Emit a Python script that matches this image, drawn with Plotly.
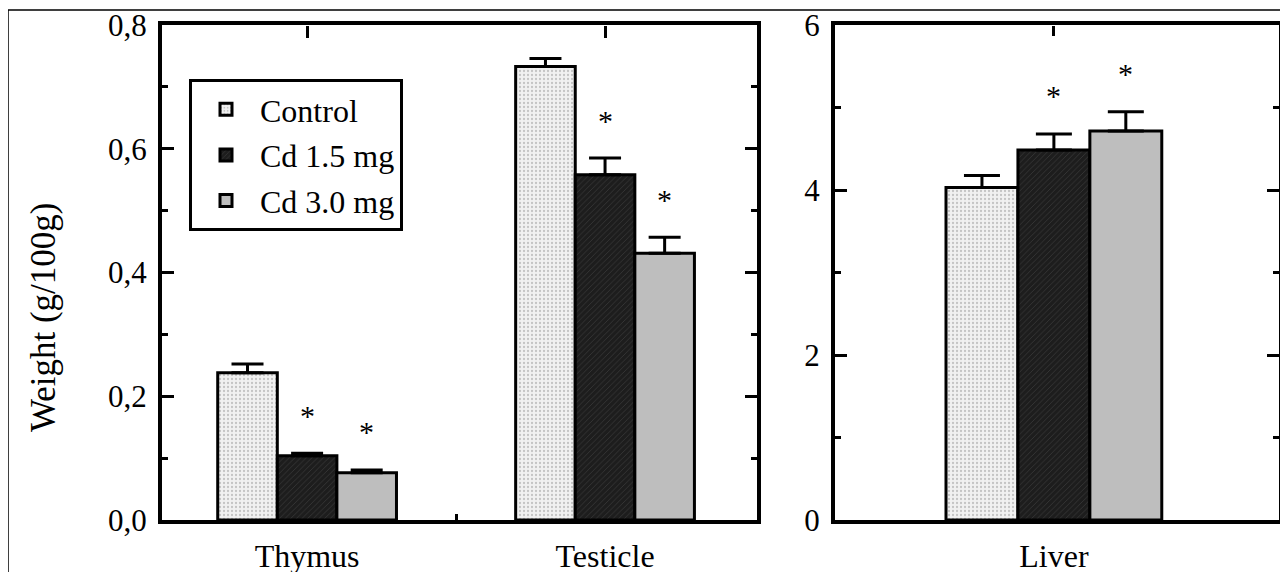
import plotly.graph_objects as go

# ---------------- data ----------------
groups = ["Control", "Cd 1.5 mg", "Cd 3.0 mg"]
left_organs = ["Thymus", "Testicle"]
right_organs = ["Liver"]

thymus_mean = [0.238, 0.104, 0.0765]
thymus_sem = [0.014, 0.004, 0.0045]
testicle_mean = [0.733, 0.558, 0.431]
testicle_sem = [0.013, 0.027, 0.026]
liver_mean = [4.03, 4.485, 4.715]
liver_sem = [0.145, 0.195, 0.235]

thymus_sig = [False, True, True]
testicle_sig = [False, True, True]
liver_sig = [False, True, True]

left_ticks = [0, 0.2, 0.4, 0.6, 0.8]
right_ticks = [0, 2, 4, 6]

# ---------------- styles ----------------
FONT = "Liberation Serif"
W, H = 1288, 572
PAGE_OFF = 8  # default page margin of the html body
fills = [
    dict(color="#efefef", pattern=dict(shape=".", fgcolor="#c4c4c4", bgcolor="#f1f1f1", size=4, solidity=0.25, fillmode="replace")),
    dict(color="#1f1f1f", pattern=dict(shape="/", fgcolor="#3a3a3a", bgcolor="#1d1d1d", size=4, solidity=0.2, fillmode="replace")),
    dict(color="#bebebe", pattern=dict(shape="")),
]
L_WIDTH = 0.2
L_OFFS = [-0.3, -0.1, 0.1]
R_WIDTH = 0.162
R_OFFS = [-0.243, -0.081, 0.081]

def px_x(p):
    return (p - PAGE_OFF) / W

def px_y(p):
    return (H - (p - PAGE_OFF)) / H

fig = go.Figure()

left_means = list(zip(thymus_mean, testicle_mean))
left_sems = list(zip(thymus_sem, testicle_sem))
left_sigs = list(zip(thymus_sig, testicle_sig))
left_x = list(range(len(left_organs)))

star_font = dict(family=FONT, size=30, color="black")
STAR_SHIFT = 38
annotations = []
for i, g in enumerate(groups):
    fig.add_trace(go.Bar(
        x=left_x, y=list(left_means[i]), name=g,
        width=L_WIDTH, offset=L_OFFS[i],
        marker=dict(line=dict(color="black", width=3), **fills[i]),
        error_y=dict(type="data", symmetric=False, array=list(left_sems[i]),
                     arrayminus=[0] * len(left_x), color="black", thickness=3, width=16),
        xaxis="x", yaxis="y", legendgroup=g, showlegend=True,
    ))
    for j, xc in enumerate(left_x):
        if left_sigs[i][j]:
            annotations.append(dict(
                x=xc + L_OFFS[i] + L_WIDTH / 2, y=left_means[i][j] + left_sems[i][j],
                xref="x", yref="y", text="*", showarrow=False, yshift=STAR_SHIFT, font=star_font))

for i, g in enumerate(groups):
    fig.add_trace(go.Bar(
        x=[0], y=[liver_mean[i]], name=g,
        width=R_WIDTH, offset=R_OFFS[i],
        marker=dict(line=dict(color="black", width=3), **fills[i]),
        error_y=dict(type="data", symmetric=False, array=[liver_sem[i]],
                     arrayminus=[0], color="black", thickness=3, width=18),
        xaxis="x2", yaxis="y2", legendgroup=g, showlegend=False,
    ))
    if liver_sig[i]:
        annotations.append(dict(
            x=R_OFFS[i] + R_WIDTH / 2, y=liver_mean[i] + liver_sem[i],
            xref="x2", yref="y2", text="*", showarrow=False, yshift=STAR_SHIFT, font=star_font))

# empty helper traces so the tick-only overlay axes get drawn
for xa, ya in (("x3", "y"), ("x4", "y"), ("x5", "y2")):
    fig.add_trace(go.Scatter(x=[], y=[], xaxis=xa, yaxis=ya, showlegend=False,
                             hoverinfo="skip", mode="markers"))

annotations.append(dict(
    x=px_x(43), y=px_y(317), xref="paper", yref="paper", text="Weight (g/100g)",
    xanchor="center", yanchor="middle",
    textangle=-90, showarrow=False, font=dict(family=FONT, size=35, color="black")))

ydom = [px_y(520), px_y(25)]
lrange = [-0.487, 1.51]
rrange = [-0.493, 0.507]

base_x = dict(showgrid=False, zeroline=False, showline=True, linecolor="black", linewidth=4,
              mirror=True, ticks="", tickfont=dict(family=FONT, size=32, color="black"),
              ticklabelstandoff=5, automargin=False, ticklabeloverflow="allow")
tick_only = dict(showgrid=False, zeroline=False, showline=False, showticklabels=False,
                 ticks="inside", tickcolor="black", tickwidth=3, automargin=False,
                 fixedrange=True)
base_y = dict(showgrid=False, zeroline=False, showline=True, linecolor="black", linewidth=4,
              mirror="ticks", ticks="inside", ticklen=12, tickwidth=3, tickcolor="black",
              tickfont=dict(family=FONT, size=31, color="black"), ticklabelstandoff=5,
              automargin=False, ticklabeloverflow="allow")

fig.update_layout(
    width=W, height=H,
    margin=dict(l=0, r=0, t=0, b=0, autoexpand=False),
    paper_bgcolor="white", plot_bgcolor="white",
    separators=", ",
    barmode="overlay",
    font=dict(family=FONT, color="black"),
    xaxis=dict(domain=[px_x(162), px_x(757)], range=lrange, tickvals=left_x,
               ticktext=left_organs, anchor="y", **base_x),
    xaxis2=dict(domain=[px_x(835), px_x(1279)], range=rrange, tickvals=[0],
                ticktext=right_organs, anchor="y2", **base_x),
    xaxis3=dict(overlaying="x", side="top", anchor="free", position=ydom[1],
                range=lrange, tickvals=left_x, ticklen=12, **tick_only),
    xaxis4=dict(overlaying="x", side="bottom", anchor="y", range=lrange, tickvals=[0.5],
                ticklen=6, **tick_only),
    xaxis5=dict(overlaying="x2", side="top", anchor="free", position=ydom[1],
                range=rrange, tickvals=[0], ticklen=10, **tick_only),
    yaxis=dict(domain=ydom, range=[0, 0.8], tickvals=left_ticks, tickformat=".1f",
               anchor="x", minor=dict(dtick=0.1, ticks="inside", ticklen=6, tickwidth=3,
                                      tickcolor="black", showgrid=False), **base_y),
    yaxis2=dict(domain=ydom, range=[0, 6], tickvals=right_ticks, anchor="x2",
                minor=dict(dtick=1, ticks="inside", ticklen=6, tickwidth=3,
                           tickcolor="black", showgrid=False), **base_y),
    legend=dict(x=px_x(189), y=px_y(79), xanchor="left", yanchor="top",
                bordercolor="black", borderwidth=3, bgcolor="white",
                font=dict(family=FONT, size=32, color="black"),
                tracegroupgap=1, itemwidth=58),
    annotations=annotations,
    shapes=[dict(type="rect", xref="paper", yref="paper", x0=px_x(8), x1=px_x(1287),
                 y0=-0.2, y1=px_y(10), line=dict(color="black", width=1.5),
                 fillcolor="rgba(0,0,0,0)", layer="below")],
)

fig.write_html("out.html")
